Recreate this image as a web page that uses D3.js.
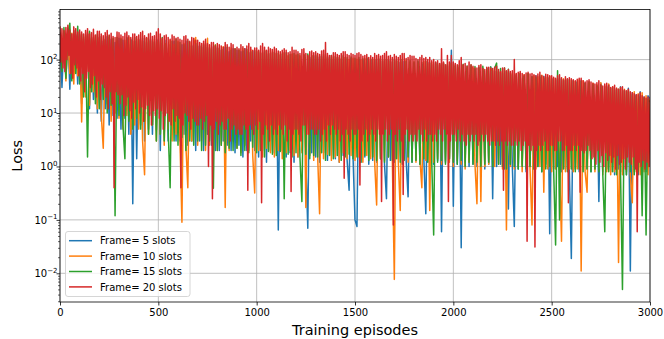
<!DOCTYPE html>
<html>
<head>
<meta charset="utf-8">
<script src="https://cdn.jsdelivr.net/npm/d3@7"></script>
<style>
  body { margin: 0; background: #fff; }
  text { font-family: "DejaVu Sans", sans-serif; }
</style>
</head>
<body>
<svg id="chart" width="664" height="339"></svg>
<script>
// values; frames 5/10/15 every 10 episodes, frame 20 every 5 episodes
const seriesNames = ['Frame= 5 slots', 'Frame= 10 slots', 'Frame= 15 slots', 'Frame= 20 slots'];
const seriesColors = ['#1f77b4', '#ff7f0e', '#2ca02c', '#d62728'];
const seriesSteps = [10, 10, 10, 5];

const lossFrame5 = [
  300, 30, 260, 45, 320, 28, 250, 60, 290, 35,
  280, 15, 240, 25, 300, 12, 250, 18, 230, 10,
  260, 7, 220, 12, 270, 6, 240, 9, 210, 8,
  250, 5, 230, 8, 260, 4, 240, 0.2, 220, 1.4,
  230, 6, 250, 3, 210, 5, 240, 4, 220, 4.8,
  240, 2, 200, 4, 230, 3, 190, 5, 220, 3,
  210, 3, 190, 4, 220, 2.5, 180, 3, 200, 2,
  180, 3, 170, 2, 190, 4, 160, 2.5, 175, 2,
  165, 2, 150, 3, 170, 2.5, 140, 2, 160, 1.8,
  150, 2.5, 140, 1.5, 160, 2, 135, 3, 145, 2,
  140, 1.5, 130, 2, 145, 1.2, 125, 2, 135, 1.8,
  130, 0.065, 120, 2, 135, 1.5, 115, 1.8, 125, 1.2,
  120, 1.5, 115, 2, 125, 1.2, 0.07, 110, 1.8, 118,
  1.5, 110, 1.2, 115, 1.8, 105, 1.3, 112, 1.6, 100,
  1.4, 108, 1.2, 102, 1.6, 110, 1.3, 0.36, 105, 1.5,
  0.1, 0.075, 100, 1.2, 95, 1.5, 105, 1.1, 98, 1.3,
  96, 1.2, 100, 1.4, 92, 1.1, 0.25, 98, 1.3, 90,
  1.2, 95, 1.4, 88, 1.1, 92, 1.3, 0.27, 90, 1.2,
  85, 1.3, 90, 1.1, 82, 1.4, 0.13, 88, 1.2, 80,
  1.1, 85, 1.3, 78, 0.06, 82, 1.2, 76, 1.4, 150,
  0.18, 75, 1.1, 70, 0.03, 78, 1.2, 68, 1.0, 72,
  1.1, 65, 1.0, 70, 1.2, 62, 0.9, 68, 1.1, 73,
  0.25, 60, 1.0, 58, 1.1, 55, 0.9, 60, 0.16, 56,
  1.0, 0.075, 52, 0.9, 55, 1.1, 50, 0.8, 53, 1.0,
  48, 0.9, 50, 1.0, 46, 0.8, 49, 1.1, 45, 0.055,
  44, 0.9, 42, 1.0, 45, 0.8, 40, 0.9, 43, 0.8,
  0.019, 40, 0.9, 38, 0.8, 41, 1.0, 36, 0.9, 39,
  0.8, 35, 0.9, 33, 0.22, 36, 0.8, 31, 0.9, 34,
  0.8, 30, 0.7, 28, 0.9, 31, 0.8, 26, 0.7, 29,
  0.011, 24, 0.8, 22, 0.7, 25, 0.9, 20, 0.8, 21,
  18
];

const lossFrame10 = [
  280, 70, 330, 40, 260, 55, 310, 35, 270, 50,
  300, 6.8, 260, 20, 320, 14, 240, 25, 280, 12,
  250, 9, 2.2, 230, 15, 260, 7, 240, 10, 220,
  8, 250, 5, 230, 9, 260, 4, 220, 6, 240,
  5, 230, 3, 0.7, 250, 4, 220, 6, 240, 3,
  210, 4, 240, 2.5, 200, 5, 230, 3, 190, 4,
  220, 3, 0.09, 200, 2.5, 0.4, 210, 3, 190, 260,
  2.5, 180, 3, 200, 2, 250, 2.5, 170, 3, 190,
  2, 160, 2.5, 175, 0.17, 150, 2, 165, 3, 155,
  2.2, 150, 1.8, 160, 2.5, 140, 2, 155, 1.6, 0.32,
  145, 2, 135, 1.5, 150, 2.2, 130, 1.8, 140, 1.5,
  130, 2, 125, 1.4, 135, 1.8, 120, 2, 128, 1.6,
  122, 1.5, 118, 1.8, 125, 0.17, 115, 1.6, 120, 1.3,
  115, 1.6, 0.13, 110, 1.4, 118, 1.7, 105, 1.3, 112,
  1.5, 108, 1.2, 104, 1.8, 110, 1.4, 100, 1.6, 106,
  1.3, 102, 1.5, 98, 1.2, 105, 1.6, 96, 1.4, 100,
  1.2, 0.19, 98, 1.4, 94, 1.3, 100, 1.5, 92, 1.2,
  0.0077, 95, 1.3, 0.15, 90, 1.4, 96, 1.2, 88, 1.5,
  90, 1.2, 85, 1.4, 0.4, 92, 1.3, 84, 0.15, 88,
  1.2, 82, 1.4, 80, 1.1, 85, 1.3, 78, 1.2, 83,
  1.0, 76, 1.3, 72, 1.1, 78, 0.9, 70, 1.2, 74,
  68, 1.1, 0.2, 66, 0.22, 70, 1.0, 64, 1.1, 67,
  62, 1.0, 60, 1.1, 58, 0.9, 61, 0.065, 57, 1.0,
  55, 0.9, 53, 1.0, 56, 0.8, 52, 1.1, 54, 0.9,
  0.08, 50, 0.9, 48, 1.0, 51, 0.33, 47, 0.9, 49,
  0.8, 45, 0.9, 43, 1.0, 0.04, 44, 0.8, 42, 0.9,
  41, 0.8, 39, 0.9, 42, 0.011, 40, 0.8, 0.33, 38,
  0.9, 36, 0.8, 34, 0.9, 37, 0.7, 32, 0.8, 35,
  0.7, 31, 0.8, 29, 0.016, 30, 0.7, 28, 0.8, 27,
  0.7, 0.21, 25, 0.8, 23, 0.7, 24, 0.8, 21, 0.7,
  19
];

const lossFrame15 = [
  320, 60, 400, 45, 300, 480, 40, 350, 55, 420,
  35, 300, 20, 280, 1.5, 340, 25, 260, 15, 300,
  12, 270, 18, 240, 10, 280, 14, 250, 0.12, 260,
  9, 240, 6, 1.4, 250, 7, 230, 5, 260, 8,
  240, 5, 220, 7, 250, 4, 230, 6, 210, 3,
  230, 4, 260, 3, 200, 5, 0.4, 220, 3, 240,
  2.5, 210, 3.5, 190, 2, 220, 3, 180, 2.5, 200,
  3, 180, 2, 190, 2.5, 170, 3, 160, 0.39, 185,
  2, 165, 2.5, 155, 1.8, 170, 2.2, 150, 2, 160,
  2.2, 150, 1.6, 145, 2, 155, 1.8, 140, 2.3, 148,
  1.8, 140, 2, 135, 1.5, 145, 1.9, 130, 1.7, 138,
  1.6, 132, 1.9, 128, 0.25, 135, 1.7, 124, 1.5, 130,
  1.8, 126, 1.5, 0.22, 120, 1.7, 128, 1.4, 118, 1.6,
  122, 1.5, 116, 1.8, 125, 1.3, 112, 1.6, 120, 1.4,
  114, 1.6, 110, 1.3, 118, 1.5, 108, 1.7, 112, 1.4,
  106, 1.5, 110, 1.2, 104, 1.6, 108, 1.3, 102, 1.5,
  100, 1.3, 105, 1.4, 98, 1.2, 102, 1.5, 96, 1.3,
  98, 1.4, 94, 1.2, 100, 1.3, 92, 1.5, 96, 1.2,
  90, 1.3, 94, 1.1, 88, 1.4, 92, 1.2, 86, 1.3,
  0.052, 88, 1.2, 84, 1.3, 86, 1.1, 82, 1.4, 85,
  1.2, 80, 1.1, 78, 1.3, 82, 1.0, 76, 1.2, 79,
  1.1, 74, 1.2, 72, 1.0, 75, 1.1, 70, 1.2, 73,
  1.0, 69, 86, 1.1, 68, 1.0, 70, 0.9, 66, 1.1,
  52, 1.0, 50, 0.9, 54, 1.0, 49, 0.9, 55, 1.0,
  48, 0.9, 46, 1.0, 50, 0.8, 45, 0.9, 47, 1.0,
  44, 0.9, 0.034, 62, 0.1, 43, 0.9, 41, 0.8, 42,
  0.9, 40, 0.8, 38, 0.9, 39, 0.8, 36, 0.9, 37,
  0.8, 34, 0.9, 32, 0.8, 33, 0.7, 0.06, 31, 0.8,
  29, 0.8, 27, 0.7, 28, 0.8, 0.005, 26, 0.7, 25,
  0.8, 22, 0.7, 21, 0.8, 20, 0.12, 19, 0.052, 18,
  16
];

const lossFrame20 = [
  420, 90, 380, 70, 350, 60, 400, 100, 440, 120, 360, 55, 300, 45, 410, 80, 380, 70, 330, 50,
  360, 40, 330, 55, 300, 25, 350, 45, 380, 60, 300, 30, 320, 35, 370, 50, 290, 20, 340, 40,
  340, 18, 300, 35, 280, 30, 320, 20, 350, 12, 290, 25, 310, 15, 270, 0.4, 260, 25, 330, 22,
  320, 15, 290, 22, 270, 9, 310, 14, 330, 20, 280, 11, 260, 8, 300, 16, 300, 12, 270, 18,
  290, 10, 320, 13, 340, 7, 280, 12, 260, 14, 300, 9, 310, 6, 270, 11, 280, 9, 330, 12,
  380, 8, 300, 11, 250, 5, 280, 9, 290, 10, 260, 7, 240, 6, 290, 12, 270, 7, 250, 9,
  260, 8, 240, 0.4, 230, 6, 270, 10, 280, 9, 240, 7, 220, 5, 260, 8, 250, 7, 230, 6,
  230, 6, 210, 8, 200, 5, 220, 7, 240, 9, 200, 1, 190, 6, 210, 0.25, 210, 5, 180, 7,
  200, 4, 190, 6, 180, 7, 170, 5, 210, 5, 190, 8, 170, 3, 200, 5, 190, 6, 160, 4,
  170, 5, 160, 4, 190, 4, 175, 6, 160, 5, 180, 0.36, 200, 6, 170, 5, 150, 4, 165, 6,
  165, 5, 150, 7, 180, 0.21, 200, 4, 170, 6, 150, 5, 170, 3, 160, 6, 155, 4, 170, 5,
  160, 4, 145, 6, 140, 5, 150, 4, 160, 6, 150, 3, 135, 5, 140, 0.34, 170, 4, 150, 5,
  150, 5, 140, 4, 130, 3, 155, 6, 160, 6, 130, 4, 120, 4, 140, 5, 145, 5, 135, 4,
  140, 4, 130, 5, 125, 3, 145, 4, 150, 5, 210, 3, 130, 6, 120, 4, 120, 6, 135, 5,
  135, 4, 125, 5, 120, 3, 130, 4, 140, 0.6, 140, 5, 125, 4, 120, 3, 130, 5, 125, 4,
  120, 4, 130, 5, 135, 0.45, 125, 3, 115, 4, 120, 5, 125, 3, 110, 4, 118, 5, 110, 4,
  130, 3, 120, 5, 125, 4, 115, 0.22, 120, 4, 130, 5, 140, 3, 115, 4, 120, 5, 110, 0.08,
  125, 4, 115, 3, 110, 5, 120, 3, 130, 0.3, 130, 4, 105, 5, 110, 3, 120, 4, 115, 3,
  115, 4, 105, 3, 100, 5, 110, 4, 120, 3, 105, 5, 110, 3, 100, 4, 110, 4, 95, 3,
  100, 4, 90, 3, 95, 5, 85, 4, 160, 3, 90, 5, 80, 4, 120, 0.22, 90, 3, 120, 4,
  90, 4, 85, 3, 80, 5, 95, 3, 110, 4, 80, 3, 85, 2.5, 75, 4, 90, 3, 80, 4,
  75, 3, 70, 4, 70, 2.5, 78, 3, 80, 4, 68, 3, 65, 4, 72, 3, 72, 2.5, 70, 3,
  68, 3, 72, 2.5, 75, 3, 65, 2.5, 60, 3, 70, 0.36, 70, 3, 62, 2.5, 65, 3, 60, 2.5,
  62, 2.5, 100, 3, 55, 2.5, 58, 3, 60, 2, 55, 2.5, 52, 3, 56, 0.04, 58, 2.5, 54, 2,
  55, 2.5, 52, 0.031, 50, 2, 54, 2.5, 58, 2, 50, 2.5, 48, 3, 53, 2, 52, 2, 50, 2.5,
  50, 2.5, 47, 2, 45, 2, 50, 3, 52, 3, 46, 2, 42, 2, 48, 2.5, 44, 0.21, 46, 2,
  44, 2, 42, 2.5, 40, 2, 43, 2.5, 45, 0.33, 45, 2, 40, 1.8, 38, 2, 40, 2.5, 42, 2,
  38, 1.4, 36, 1.5, 35, 1.1, 37, 2, 40, 1.2, 34, 1.6, 32, 1.0, 35, 1.8, 36, 1.3, 33, 1.6,
  30, 1.2, 31, 1.5, 33, 0.9, 29, 1.6, 28, 1.1, 30, 1.2, 31, 1.4, 27, 0.9, 26, 1.5, 28, 1.2,
  25, 1.1, 24, 1.5, 23, 0.9, 22, 0.06, 22, 1.2, 24, 1.0, 21, 1.3, 20, 0.9, 19, 1.2, 20, 1.0,
  18
];

const xTicks = [0, 500, 1000, 1500, 2000, 2500, 3000];
const yTicks = [1e-2, 1e-1, 1e0, 1e1, 1e2];
const yTickExps = ['\u22122', '\u22121', '0', '1', '2'];

const allSeries = [lossFrame5, lossFrame10, lossFrame15, lossFrame20];

const plotLeft = 60, plotRight = 650, plotTop = 9.5, plotBottom = 302;

const x = d3.scaleLinear().domain([0, 3000]).range([plotLeft, plotRight]);
const y = d3.scaleLog().domain([Math.pow(10, -2.537), Math.pow(10, 2.938)]).range([plotBottom, plotTop]);

const svg = d3.select('#chart');

svg.append('defs').append('clipPath').attr('id', 'plot-clip')
  .append('rect')
  .attr('x', plotLeft).attr('y', plotTop)
  .attr('width', plotRight - plotLeft).attr('height', plotBottom - plotTop);

// grid
const grid = svg.append('g').attr('stroke', '#b0b0b0').attr('stroke-width', 0.8);
grid.selectAll('.vg').data(xTicks).enter().append('line')
  .attr('x1', d => x(d)).attr('x2', d => x(d))
  .attr('y1', plotTop).attr('y2', plotBottom);
grid.selectAll('.hg').data(yTicks).enter().append('line')
  .attr('x1', plotLeft).attr('x2', plotRight)
  .attr('y1', d => y(d)).attr('y2', d => y(d));

// lines
svg.append('g').attr('clip-path', 'url(#plot-clip)')
  .selectAll('path')
  .data(allSeries)
  .enter()
  .append('path')
  .attr('d', (d, k) => d3.line()
    .x((v, i) => x(i * seriesSteps[k]))
    .y(v => y(v))(d))
  .attr('fill', 'none')
  .attr('stroke', (d, i) => seriesColors[i])
  .attr('stroke-width', 1.5)
  .attr('stroke-linejoin', 'round');

// frame
svg.append('rect')
  .attr('x', plotLeft).attr('y', plotTop)
  .attr('width', plotRight - plotLeft).attr('height', plotBottom - plotTop)
  .attr('fill', 'none').attr('stroke', '#000').attr('stroke-width', 0.8);

// x axis
const xAxis = svg.append('g')
  .attr('transform', 'translate(0,' + plotBottom + ')')
  .call(d3.axisBottom(x).tickValues(xTicks).tickFormat(d3.format('d')).tickSize(3.5).tickPadding(3.5));
xAxis.select('.domain').remove();
xAxis.selectAll('text').attr('font-size', 10).attr('fill', '#000')
  .attr('font-family', '"DejaVu Sans", sans-serif');
xAxis.selectAll('line').attr('stroke', '#000').attr('stroke-width', 0.8);

// y axis, major + minor ticks
const minorTicks = [];
for (let e = -3; e <= 2; e++) {
  for (let m = 2; m <= 9; m++) {
    const v = m * Math.pow(10, e);
    if (v > y.domain()[0] && v < y.domain()[1]) minorTicks.push(v);
  }
}
const yMinor = svg.append('g')
  .attr('transform', 'translate(' + plotLeft + ',0)')
  .call(d3.axisLeft(y).tickValues(minorTicks).tickSize(2).tickFormat(''));
yMinor.select('.domain').remove();
yMinor.selectAll('line').attr('stroke', '#000').attr('stroke-width', 0.6);

const yAxis = svg.append('g')
  .attr('transform', 'translate(' + plotLeft + ',0)')
  .call(d3.axisLeft(y).tickValues(yTicks).tickSize(3.5).tickFormat(''));
yAxis.select('.domain').remove();
yAxis.selectAll('line').attr('stroke', '#000').attr('stroke-width', 0.8);

const yLabels = svg.append('g');
yTicks.forEach((v, i) => {
  const t = yLabels.append('text')
    .attr('x', 57.5)
    .attr('y', y(v) + 4)
    .attr('text-anchor', 'end')
    .attr('font-size', 10)
    .attr('fill', '#000');
  t.append('tspan').text('10');
  t.append('tspan').attr('dy', -4.5).attr('font-size', 7).text(yTickExps[i]);
});

// axis titles
svg.append('text')
  .attr('x', (plotLeft + plotRight) / 2).attr('y', 335)
  .attr('text-anchor', 'middle').attr('font-size', 14.5)
  .text('Training episodes');
svg.append('text')
  .attr('transform', 'translate(21.5,' + ((plotTop + plotBottom) / 2) + ') rotate(-90)')
  .attr('text-anchor', 'middle').attr('font-size', 14.5)
  .text('Loss');

// legend
const legend = svg.append('g');
legend.append('rect')
  .attr('x', 65.5).attr('y', 231.5).attr('width', 124.5).attr('height', 65)
  .attr('rx', 2.5)
  .attr('fill', '#fff').attr('fill-opacity', 0.8)
  .attr('stroke', '#cccccc').attr('stroke-width', 0.8);
seriesNames.forEach((name, i) => {
  const cy = 240.7 + i * 15.4;
  legend.append('line')
    .attr('x1', 69).attr('x2', 92).attr('y1', cy).attr('y2', cy)
    .attr('stroke', seriesColors[i]).attr('stroke-width', 1.5);
  legend.append('text')
    .attr('x', 100).attr('y', cy + 3.6)
    .attr('font-size', 10).attr('fill', '#000')
    .text(name);
});
</script>
</body>
</html>
